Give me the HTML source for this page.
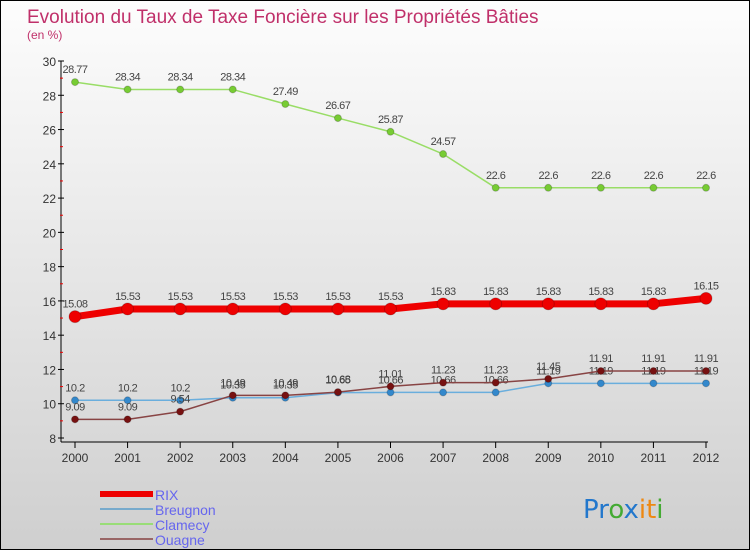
<!DOCTYPE html>
<html><head><meta charset="utf-8"><style>
body{margin:0}
#wrap{position:relative;width:748px;height:548px;border:1px solid #000;background:linear-gradient(#fdfdfd,#cfcfcf);font-family:"Liberation Sans",sans-serif;overflow:hidden}
</style></head><body>
<div id="wrap">
<svg id="chart" width="748" height="548"></svg>
</div>
<script>
const years=["2000","2001","2002","2003","2004","2005","2006","2007","2008","2009","2010","2011","2012"];
const rix=[15.08,15.53,15.53,15.53,15.53,15.53,15.53,15.83,15.83,15.83,15.83,15.83,16.15];
const breugnon=[10.2,10.2,10.2,10.35,10.35,10.65,10.66,10.66,10.66,11.19,11.19,11.19,11.19];
const clamecy=[28.77,28.34,28.34,28.34,27.49,26.67,25.87,24.57,22.6,22.6,22.6,22.6,22.6];
const ouagne=[9.09,9.09,9.54,10.49,10.49,10.68,11.01,11.23,11.23,11.45,11.91,11.91,11.91];
const yTicks=[8,10,12,14,16,18,20,22,24,26,28,30];
const NS="http://www.w3.org/2000/svg";
const svg=document.getElementById('chart');
const X=i=>74+i*(631/12);
const Y=v=>437-(v-8)*(377/22);
function mk(t,a,p){const e=document.createElementNS(NS,t);for(const k in a)e.setAttribute(k,a[k]);(p||svg).appendChild(e);return e;}
function txt(x,y,s,a){const e=mk('text',Object.assign({x:x,y:y},a));e.textContent=s;return e;}
let t=txt(26,22,"Evolution du Taux de Taxe Foncière sur les Propriétés Bâties",{fill:"#c0306a","font-size":"19"});


t=txt(26,38,"(en %)",{fill:"#c0306a","font-size":"12"});


let ax=mk('line',{x1:60,y1:Y(30),x2:60,y2:Y(8)+4,stroke:"#000"});


ax=mk('line',{x1:60,y1:Y(8)+4,x2:X(12)+2,y2:Y(8)+4,stroke:"#000"});


yTicks.forEach(v=>{mk('line',{x1:57,y1:Y(v),x2:63,y2:Y(v),stroke:"#000"});
 if(v<30)mk('line',{x1:59,y1:Y(v+1),x2:62,y2:Y(v+1),stroke:"#e00"});
 const l=txt(55,Y(v)+5,String(v),{fill:"#333","font-size":"12","text-anchor":"end"});
 
 });
years.forEach((y,i)=>{mk('line',{x1:X(i),y1:Y(8)+4,x2:X(i),y2:Y(8)+10,stroke:"#000"});
 const l=txt(X(i),Y(8)+24,y,{fill:"#333","font-size":"12","text-anchor":"middle"});
 
 });
function series(name,vals,color,w,dot,dr){
 const g=mk('g',{});
 
 
 mk('polyline',{points:vals.map((v,i)=>X(i)+","+Y(v)).join(" "),fill:"none",stroke:color,"stroke-width":w,"stroke-linejoin":"round"},g);
 vals.forEach((v,i)=>{const c=mk('circle',{cx:X(i),cy:Y(v),r:dr,fill:dot,stroke:"#0003"},g);
  
  
  const l=txt(X(i),Y(v)-9,String(v),{fill:"#444","font-size":"11","text-anchor":"middle","letter-spacing":"-0.5"},g);
  
  });
}
series('clamecy',clamecy,"#99dd66",1.5,"#77cc33",3.5);
series('breugnon',breugnon,"#6aaedd",1.5,"#3388cc",3.5);
series('ouagne',ouagne,"#884444",1.5,"#771111",3.5);
series('rix',rix,"#ee0000",7,"#ee0000",6);
const leg=[["RIX","#ee0000",6],["Breugnon","#77aacc",2],["Clamecy","#99dd77",2],["Ouagne","#996666",2]];
leg.forEach((l,i)=>{const y=493+i*15;const g=mk('g',{});
 
 
 mk('line',{x1:99,y1:y,x2:152,y2:y,stroke:l[1],"stroke-width":l[2]},g);
 txt(154,y+6,l[0],{fill:"#6666ee","font-size":"14"},g);});
const lg=mk('text',{x:582,y:517,"font-size":"26","font-family":"DejaVu Sans, sans-serif"});


[["Pr","#2277cc"],["o","#44aa33"],["x","#2277cc"],["it","#ee8811"],["i","#44aa33"]].forEach(p=>{const s=document.createElementNS(NS,'tspan');s.setAttribute('fill',p[1]);s.textContent=p[0];lg.appendChild(s);});
</script>
</body></html>
